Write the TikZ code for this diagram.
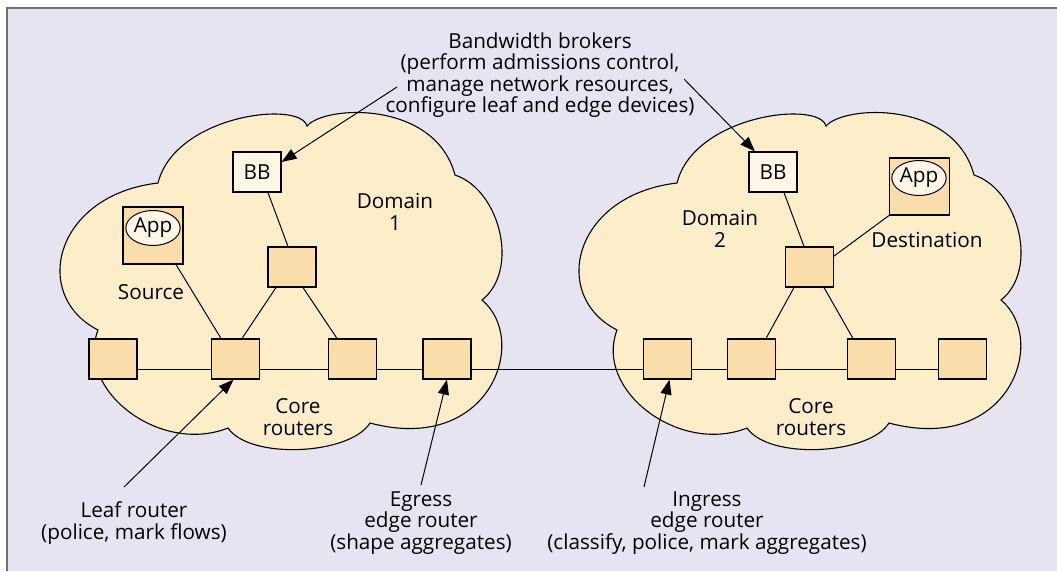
\documentclass[tikz,border=0pt]{standalone}
\usepackage{fontspec}
\setmainfont{Open Sans}
\usetikzlibrary{arrows.meta,calc,shapes.geometric}

\definecolor{panelbg}{HTML}{E6E4F0}
\definecolor{cloudfill}{HTML}{FDEDC8}
\definecolor{routerfill}{HTML}{F9DEAB}
\definecolor{brokerfill}{HTML}{FFF6E6}
\definecolor{framegray}{HTML}{707070}

\newcommand{\labelfont}{\fontsize{20.7}{21.3}\selectfont}

\tikzset{
  router/.style={draw=black, line width=1.1pt, fill=routerfill,
    minimum width=48pt, minimum height=40pt, inner sep=0pt},
  broker/.style={router, fill=brokerfill, font=\labelfont},
  appbox/.style={router, minimum width=60pt, minimum height=57pt},
  appoval/.style={ellipse, draw=black, line width=1pt, fill=brokerfill,
    minimum width=50pt, minimum height=35pt, inner sep=0pt, font=\labelfont},
  cloudshape/.style={draw=black, line width=1.1pt, fill=cloudfill},
  link/.style={line width=1pt},
  callout/.style={line width=1pt, -{Triangle[length=15pt,width=11pt]}},
  lbl/.style={align=center, inner sep=0pt, font=\labelfont},
}

% one administrative domain drawn as a cloud
\newcommand{\domaincloud}{%
  \path[cloudshape] (158,183)
    .. controls (175,115) and (300,100) .. (307,126)
    .. controls (325,105) and (435,100) .. (455,175)
    .. controls (500,190) and (520,270) .. (482,300)
    .. controls (530,340) and (490,455) .. (370,423)
    .. controls (350,455) and (250,460) .. (228,428)
    .. controls (160,455) and (75,390) .. (98,330)
    .. controls (30,295) and (55,195) .. (158,183) -- cycle;}

\begin{document}
\begin{tikzpicture}[x=1pt, y=-1pt]
  \useasboundingbox (0,0) rectangle (1057,571);
  \fill[white] (0,0) rectangle (1057,571);
  \fill[panelbg] (7,8) rectangle (1057,571);
  \draw[framegray, line width=2pt] (6.5,571) -- (6.5,7.5) -- (1057,7.5);

  % the two domains
  \begin{scope}\domaincloud\end{scope}
  \begin{scope}[xshift=519pt]\domaincloud\end{scope}

  % domain 1 devices
  \node[broker]  (bb1)  at (257,172) {BB};
  \node[appbox]  (app1) at (153,235.5) {};
  \node[appoval] at (153,228) {App};
  \node[router]  (t1)   at (292,267) {};
  \node[router]  (r1)   at (113,359) {};
  \node[router]  (r2)   at (235.5,359) {};
  \node[router]  (r3)   at (352.5,359) {};
  \node[router]  (r4)   at (447,359) {};

  % domain 2 devices
  \node[broker]  (bb2)  at (773,172) {BB};
  \node[appbox]  (app2) at (919.5,186.5) {};
  \node[appoval] at (919,178) {App};
  \node[router]  (t2)   at (809.5,267) {};
  \node[router]  (s1)   at (667.5,359) {};
  \node[router]  (s2)   at (751.5,359) {};
  \node[router]  (s3)   at (871.5,359) {};
  \node[router]  (s4)   at (962.5,359) {};

  % links
  \draw[link] ([yshift=-10pt]r1.east) -- ([yshift=-10pt]r2.west);
  \draw[link] ([yshift=-10pt]r2.east) -- ([yshift=-10pt]r3.west);
  \draw[link] ([yshift=-10pt]r3.east) -- ([yshift=-10pt]r4.west);
  \draw[link] ([yshift=-10pt]r4.east) -- ([yshift=-10pt]s1.west);
  \draw[link] ([yshift=-10pt]s1.east) -- ([yshift=-10pt]s2.west);
  \draw[link] ([yshift=-10pt]s2.east) -- ([yshift=-10pt]s3.west);
  \draw[link] ([yshift=-10pt]s3.east) -- ([yshift=-10pt]s4.west);

  \draw[link] ([xshift=11pt]bb1.south) -- ([xshift=-4pt]t1.north);
  \draw[link] ([xshift=23pt]app1.south) -- ([xshift=-14.5pt]r2.north);
  \draw[link] ([xshift=-16pt]t1.south) -- ([xshift=6.5pt]r2.north);
  \draw[link] ([xshift=11pt]t1.south) -- ([xshift=-15.5pt]r3.north);

  \draw[link] ([xshift=11pt]bb2.south) -- ([xshift=-5.5pt]t2.north);
  \draw[link] (app2.south west) -- ([yshift=11pt]t2.east);
  \draw[link] ([xshift=-15.5pt]t2.south) -- ([xshift=14.5pt]s2.north);
  \draw[link] ([xshift=14.5pt]t2.south) -- ([xshift=-18.5pt]s3.north);

  % labels inside the clouds
  \node[lbl] (src)  at (151,292) {Source};
  \node[lbl] (dom1) at (395,212) {Domain\\1};
  \node[lbl] (core1) at (298,417) {Core\\routers};
  \node[lbl] (dom2) at (720,229) {Domain\\2};
  \node[lbl] (dst)  at (927,240) {Destination};
  \node[lbl] (core2) at (811,417) {Core\\routers};

  % callout texts
  \node[lbl] (bbtext) at (540,75) {Bandwidth brokers\\(perform admissions control,\\manage network resources,\\configure leaf and edge devices)};
  \node[lbl] (leaf) at (134,523) {Leaf router\\(police, mark flows)};
  \node[lbl] (egress) at (421,523) {Egress\\edge router\\(shape aggregates)};
  \node[lbl] (ingress) at (707,523) {Ingress\\edge router\\(classify, police, mark aggregates)};

  % callout arrows
  \coordinate (bbA) at (397,87);
  \coordinate (bbB) at (684,79);
  \coordinate (leafA) at (124,487);
  \coordinate (egrA) at (421,485);
  \coordinate (ingA) at (644,487);
  \draw[callout] (bbA) -- ([yshift=10pt]bb1.east);
  \draw[callout] (bbB) -- ([xshift=-18pt]bb2.north);
  \draw[callout] (leafA) -- ([xshift=-2pt]r2.south);
  \draw[callout] (egrA) -- (r4.south);
  \draw[callout] (ingA) -- ([xshift=2pt]s1.south);
\end{tikzpicture}
\end{document}
